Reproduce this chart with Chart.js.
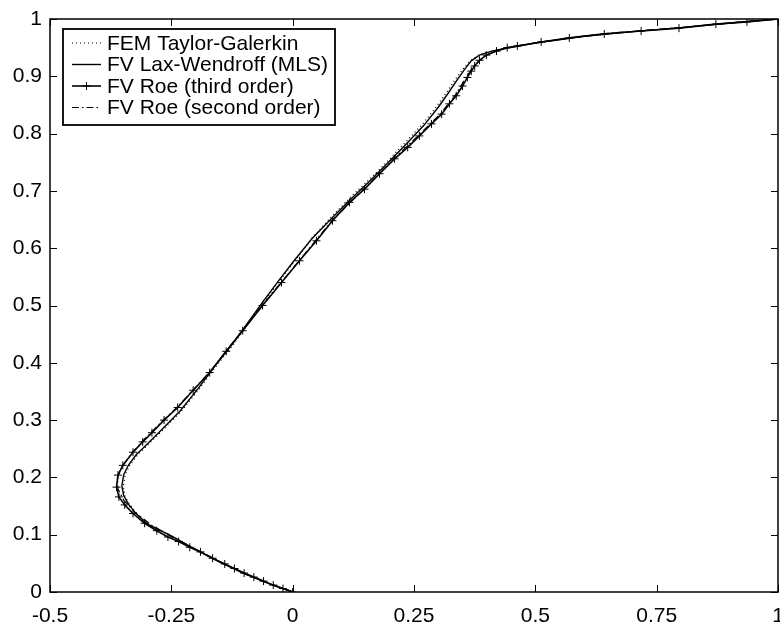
<!DOCTYPE html>
<html>
	<head>
		<meta charset="utf-8">
		<title>Profile comparison</title>
		<style>
			body { margin: 0; background: #fff; }
			canvas { display: block; }
		</style>
	</head>
	<body>
		<canvas id="canvasChart" width="780" height="623"></canvas>

		<script src="https://cdn.jsdelivr.net/npm/chart.js"></script>
		<script>

			// tick values for both axes
			var xTicks = [-0.5, -0.25, 0, 0.25, 0.5, 0.75, 1];
			var yTicks = [0, 0.1, 0.2, 0.3, 0.4, 0.5, 0.6, 0.7, 0.8, 0.9, 1];

			var seriesNames = ['FEM Taylor-Galerkin', 'FV Lax-Wendroff (MLS)', 'FV Roe (third order)', 'FV Roe (second order)'];

			// FV Roe third order (the one with + markers)
			var roe3X = [0, -0.02, -0.04, -0.06, -0.08, -0.10, -0.12, -0.14, -0.165, -0.19, -0.212, -0.235, -0.257, -0.28, -0.305, -0.329, -0.346, -0.358, -0.363, -0.360, -0.350, -0.329, -0.309, -0.29, -0.265, -0.237, -0.205, -0.171, -0.137, -0.103, -0.062, -0.023, 0.014, 0.049, 0.082, 0.117, 0.148, 0.179, 0.21, 0.237, 0.261, 0.286, 0.307, 0.323, 0.337, 0.350, 0.360, 0.368, 0.375, 0.385, 0.399, 0.42, 0.442, 0.463, 0.512, 0.570, 0.642, 0.718, 0.796, 0.872, 0.936, 1];
			var roe3Y = [0, 0.006, 0.012, 0.019, 0.026, 0.033, 0.041, 0.049, 0.059, 0.070, 0.078, 0.088, 0.096, 0.107, 0.120, 0.137, 0.152, 0.166, 0.183, 0.204, 0.221, 0.244, 0.262, 0.278, 0.300, 0.322, 0.352, 0.383, 0.420, 0.456, 0.500, 0.540, 0.578, 0.613, 0.648, 0.680, 0.703, 0.730, 0.756, 0.776, 0.796, 0.817, 0.834, 0.852, 0.866, 0.883, 0.898, 0.909, 0.918, 0.928, 0.937, 0.944, 0.950, 0.953, 0.960, 0.967, 0.974, 0.979, 0.984, 0.991, 0.995, 1];

			// FV Roe second order (dash-dot, nearly on top of the third order)
			var roe2X = [0, -0.05, -0.10, -0.15, -0.20, -0.25, -0.29, -0.325, -0.348, -0.360, -0.361, -0.352, -0.332, -0.305, -0.270, -0.235, -0.170, -0.102, -0.060, -0.020, 0.016, 0.083, 0.150, 0.212, 0.262, 0.305, 0.336, 0.358, 0.374, 0.398, 0.44, 0.52, 0.65, 0.80, 0.94, 1];
			var roe2Y = [0, 0.015, 0.033, 0.053, 0.075, 0.097, 0.116, 0.139, 0.160, 0.180, 0.200, 0.218, 0.242, 0.267, 0.297, 0.325, 0.385, 0.458, 0.503, 0.544, 0.581, 0.650, 0.706, 0.759, 0.799, 0.835, 0.868, 0.899, 0.919, 0.937, 0.950, 0.961, 0.975, 0.985, 0.996, 1];

			// FV Lax-Wendroff (solid)
			var lwX = [0, -0.05, -0.10, -0.15, -0.20, -0.25, -0.30, -0.322, -0.338, -0.348, -0.352, -0.348, -0.338, -0.322, -0.300, -0.270, -0.232, -0.195, -0.156, -0.125, -0.095, -0.060, -0.030, 0.000, 0.040, 0.080, 0.120, 0.160, 0.200, 0.240, 0.270, 0.300, 0.320, 0.340, 0.355, 0.368, 0.385, 0.410, 0.440, 0.500, 0.600, 0.700, 0.800, 0.900, 1];
			var lwY = [0, 0.015, 0.032, 0.052, 0.074, 0.098, 0.119, 0.136, 0.153, 0.168, 0.185, 0.205, 0.222, 0.240, 0.258, 0.283, 0.316, 0.355, 0.399, 0.432, 0.467, 0.508, 0.542, 0.575, 0.617, 0.652, 0.686, 0.718, 0.752, 0.787, 0.814, 0.846, 0.870, 0.895, 0.913, 0.927, 0.937, 0.944, 0.949, 0.958, 0.970, 0.978, 0.985, 0.993, 1];

			// FEM Taylor-Galerkin (dotted, close to Lax-Wendroff)
			var femX = [0, -0.05, -0.10, -0.15, -0.20, -0.25, -0.298, -0.320, -0.336, -0.346, -0.349, -0.345, -0.335, -0.319, -0.297, -0.267, -0.229, -0.192, -0.153, -0.122, -0.093, -0.058, -0.028, 0.002, 0.040, 0.079, 0.118, 0.158, 0.198, 0.237, 0.267, 0.297, 0.317, 0.337, 0.353, 0.367, 0.385, 0.410, 0.440, 0.500, 0.600, 0.700, 0.800, 0.900, 1];
			var femY = [0, 0.015, 0.032, 0.052, 0.074, 0.098, 0.119, 0.136, 0.153, 0.168, 0.185, 0.205, 0.222, 0.240, 0.258, 0.283, 0.316, 0.355, 0.399, 0.432, 0.467, 0.508, 0.542, 0.575, 0.618, 0.654, 0.688, 0.720, 0.754, 0.789, 0.816, 0.848, 0.872, 0.897, 0.915, 0.928, 0.938, 0.944, 0.949, 0.958, 0.970, 0.978, 0.985, 0.993, 1];

			function toPoints(xs, ys) {
				return xs.map(function(x, i) { return {x: x, y: ys[i]}; });
			}

			var FONT = 'Liberation Sans, Arial, Helvetica, sans-serif';

			// line styles for the legend and the datasets
			var styles = [
				{dash: [1, 3], width: 1.2, cross: false},
				{dash: [], width: 1.4, cross: false},
				{dash: [], width: 1.6, cross: true},
				{dash: [7, 3, 1.5, 3], width: 1.2, cross: false}
			];

			// box, inside ticks and legend drawn by hand (matlab look)
			var matlabFrame = {
				id: 'matlabFrame',
				afterDraw: function(chart) {
					var ctx = chart.ctx;
					var a = chart.chartArea;
					var xs = chart.scales.x, ys = chart.scales.y;
					ctx.save();
					ctx.strokeStyle = '#000';
					ctx.setLineDash([]);
					ctx.lineWidth = 1.5;
					ctx.strokeRect(a.left, a.top, a.right - a.left, a.bottom - a.top);

					ctx.lineWidth = 1;
					var tl = 7;
					ctx.beginPath();
					xTicks.forEach(function(v) {
						var px = Math.round(xs.getPixelForValue(v)) + 0.5;
						ctx.moveTo(px, a.bottom); ctx.lineTo(px, a.bottom - tl);
						ctx.moveTo(px, a.top); ctx.lineTo(px, a.top + tl);
					});
					yTicks.forEach(function(v) {
						var py = Math.round(ys.getPixelForValue(v)) + 0.5;
						ctx.moveTo(a.left, py); ctx.lineTo(a.left + tl, py);
						ctx.moveTo(a.right, py); ctx.lineTo(a.right - tl, py);
					});
					ctx.stroke();

					// legend
					var bx = 63, by = 29, bw = 272, bh = 96;
					ctx.fillStyle = '#fff';
					ctx.fillRect(bx, by, bw, bh);
					ctx.lineWidth = 1.8;
					ctx.strokeRect(bx, by, bw, bh);
					ctx.font = '21px ' + FONT;
					ctx.fillStyle = '#000';
					ctx.textBaseline = 'middle';
					seriesNames.forEach(function(name, i) {
						var cy = by + 14 + i * 21.5;
						var st = styles[i];
						ctx.lineWidth = st.width;
						ctx.setLineDash(st.dash);
						ctx.beginPath();
						ctx.moveTo(72, cy); ctx.lineTo(101, cy);
						ctx.stroke();
						ctx.setLineDash([]);
						if (st.cross) {
							ctx.lineWidth = 1;
							ctx.beginPath();
							ctx.moveTo(86.5, cy - 4); ctx.lineTo(86.5, cy + 4);
							ctx.moveTo(82.5, cy); ctx.lineTo(90.5, cy);
							ctx.stroke();
						}
						ctx.fillText(name, 107, cy + 1);
					});
					ctx.restore();
				}
			};

			var datasets = [
				toPoints(femX, femY),
				toPoints(lwX, lwY),
				toPoints(roe3X, roe3Y),
				toPoints(roe2X, roe2Y)
			].map(function(pts, i) {
				var st = styles[i];
				return {
					label: seriesNames[i],
					data: pts,
					showLine: true,
					borderColor: '#000',
					backgroundColor: '#000',
					borderWidth: st.width,
					borderDash: st.dash,
					tension: 0,
					pointStyle: 'cross',
					pointRadius: st.cross ? 4 : 0,
					pointBorderWidth: 1,
					pointHoverRadius: 0
				};
			});

			var chart = new Chart(document.getElementById('canvasChart'), {
				type: 'scatter',
				data: { datasets: datasets },
				options: {
					responsive: false,
					animation: false,
					events: [],
					layout: {
						autoPadding: false,
						padding: { left: 0, top: 19, right: 2, bottom: 0 }
					},
					plugins: {
						legend: { display: false },
						tooltip: { enabled: false }
					},
					scales: {
						x: {
							type: 'linear',
							min: -0.5,
							max: 1,
							afterBuildTicks: function(scale) {
								scale.ticks = xTicks.map(function(v) { return {value: v}; });
							},
							afterFit: function(scale) {
								scale.height = 31;
								scale.paddingLeft = 0;
								scale.paddingRight = 0;
							},
							grid: { display: false, drawTicks: false },
							border: { display: false },
							ticks: {
								color: '#000',
								padding: 12,
								maxRotation: 0,
								font: { family: FONT, size: 21 },
								callback: function(v) { return String(v); }
							}
						},
						y: {
							type: 'linear',
							min: 0,
							max: 1,
							afterBuildTicks: function(scale) {
								scale.ticks = yTicks.map(function(v) { return {value: v}; });
							},
							afterFit: function(scale) {
								scale.width = 50;
								scale.paddingTop = 0;
								scale.paddingBottom = 0;
							},
							grid: { display: false, drawTicks: false },
							border: { display: false },
							ticks: {
								color: '#000',
								padding: 8,
								font: { family: FONT, size: 21 },
								callback: function(v) { return String(Math.round(v * 10) / 10); }
							}
						}
					}
				},
				plugins: [matlabFrame]
			});

		</script>
	</body>
</html>
